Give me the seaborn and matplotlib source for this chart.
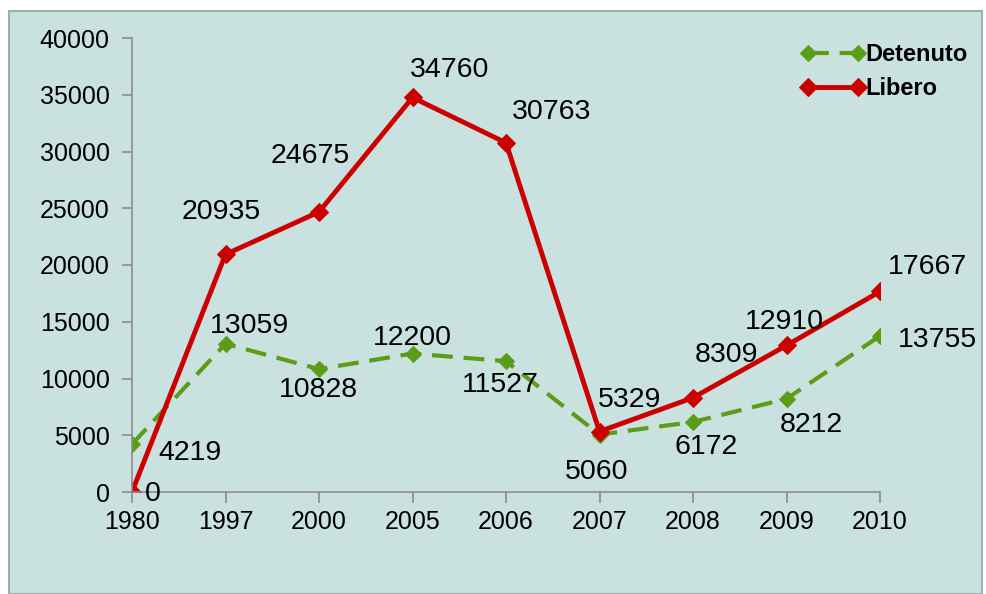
import matplotlib
matplotlib.use("Agg")
import matplotlib.pyplot as plt
from matplotlib.patches import Rectangle
import seaborn as sns
import pandas as pd

years = ["1980", "1997", "2000", "2005", "2006", "2007", "2008", "2009", "2010"]
detenuto = [4219, 13059, 10828, 12200, 11527, 5060, 6172, 8212, 13755]
libero = [0, 20935, 24675, 34760, 30763, 5329, 8309, 12910, 17667]
yticks = [0, 5000, 10000, 15000, 20000, 25000, 30000, 35000, 40000]

# label offsets in pixels (dx, dy)
det_off = [(58, -9), (24, 18), (-1, -21), (0, 16), (-6, -24), (-3, -37), (13, -25), (25, -26), (57, -4)]
lib_off = [(21, -2), (-4, 42), (-9, 56), (37, 27), (46, 31), (30, 32), (33, 43), (-2, 23), (47, 24)]

sns.set_theme(style="white")
plt.rcParams["font.family"] = ["Liberation Sans", "DejaVu Sans"]
plt.rcParams["text.color"] = "black"

W, H = 986, 594
fig = plt.figure(figsize=(W / 100, H / 100), dpi=100)
fig.patch.set_facecolor("white")
bg = Rectangle((9 / W, 0), (982 - 9) / W, (H - 11) / H, transform=fig.transFigure,
               facecolor="#c9e2e0", edgecolor="#9fb0b0", linewidth=1.5, zorder=-10)
fig.patches.append(bg)

ax = fig.add_axes([132 / W, (H - 492) / H, (880 - 132) / W, (492 - 38) / H])
ax.set_facecolor("none")
ax.set_zorder(5)

df_det = pd.DataFrame({"year": years, "value": detenuto})
df_lib = pd.DataFrame({"year": years, "value": libero})

green = "#5b9d16"
red = "#cc0000"

sns.lineplot(data=df_det, x="year", y="value", ax=ax, color=green, linewidth=3,
             marker="D", markersize=8, markeredgecolor=green, sort=False,
             label="Detenuto")
ax.lines[-1].set_dashes([5, 2.6])
sns.lineplot(data=df_lib, x="year", y="value", ax=ax, color=red, linewidth=3.5,
             marker="D", markersize=9, markeredgecolor=red, sort=False,
             label="Libero")

ax.set_xlim(0, len(years) - 1)
ax.set_ylim(0, 40000)
ax.set_yticks(yticks)
ax.set_yticklabels([str(v) for v in yticks])
ax.set_xlabel("")
ax.set_ylabel("")

for s in ["top", "right"]:
    ax.spines[s].set_visible(False)
for s in ["left", "bottom"]:
    ax.spines[s].set_color("#8c8c8c")
    ax.spines[s].set_linewidth(1.2)

ax.tick_params(axis="y", direction="out", length=7, width=1.2, color="#8c8c8c",
               labelsize=18, labelcolor="black", pad=9, left=True)
ax.tick_params(axis="x", direction="out", length=8, width=1.2, color="#8c8c8c",
               labelsize=18, labelcolor="black", pad=5, bottom=True)

for i, (v, off) in enumerate(zip(detenuto, det_off)):
    ax.annotate(str(v), (i, v), xytext=off, textcoords="offset pixels",
                ha="center", va="center", fontsize=20.5, color="black",
                annotation_clip=False)
for i, (v, off) in enumerate(zip(libero, lib_off)):
    ax.annotate(str(v), (i, v), xytext=off, textcoords="offset pixels",
                ha="center", va="center", fontsize=20.5, color="black",
                annotation_clip=False)

leg = ax.legend(loc="upper right", bbox_to_anchor=(1.145, 1.035), frameon=False,
                numpoints=2, handlelength=2.7, handletextpad=0.0,
                prop={"weight": "bold", "size": 17}, labelspacing=0.45)
for t in leg.get_texts():
    t.set_color("black")

fig.savefig("out.png", dpi=100, facecolor=fig.get_facecolor())
